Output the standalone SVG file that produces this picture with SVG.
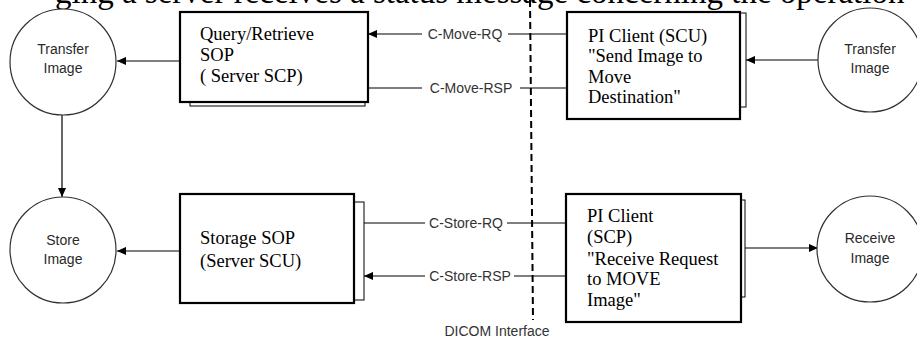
<svg xmlns="http://www.w3.org/2000/svg" width="917" height="339" viewBox="0 0 917 339">
  <style>
    .bg { fill: #ffffff; }
    .heading { font-family: "Liberation Serif", "Times New Roman", serif; font-size: 33px; fill: #000; }
    .proc { fill: #ffffff; stroke: #303030; stroke-width: 1.2; }
    .ptxt { font-family: "Liberation Sans", Arial, sans-serif; font-size: 14px; fill: #2a2a2a; text-anchor: middle; }
    .box { fill: #ffffff; stroke: #000; stroke-width: 2.2; }
    .shadow { fill: #ffffff; stroke: #000; stroke-width: 1; }
    .btxt { font-family: "Liberation Serif", "Times New Roman", serif; font-size: 18.5px; fill: #000; }
    .wire { stroke: #000; stroke-width: 1.2; fill: none; }
    .msg { font-family: "Liberation Sans", Arial, sans-serif; font-size: 14px; fill: #333; text-anchor: middle; }
    .iface { stroke: #000; stroke-width: 2; stroke-dasharray: 7 4; fill: none; }
  </style>
  <defs>
    <marker id="arr" viewBox="0 0 10 10" refX="10" refY="5" markerWidth="9" markerHeight="9" markerUnits="userSpaceOnUse" orient="auto">
      <path d="M0,0.5 L10,5 L0,9.5 z" fill="#000"/>
    </marker>
  </defs>

  <rect class="bg" x="0" y="0" width="917" height="339"/>

  <!-- running text of the surrounding page, clipped by the top edge -->
  <text class="heading" x="55" y="3">ging a server receives a status message concerning the operation</text>

  <!-- connectors -->
  <g id="connectors">
    <line class="wire" x1="180" y1="61" x2="117" y2="61" marker-end="url(#arr)"/>
    <line class="wire" x1="62" y1="115" x2="62" y2="197" marker-end="url(#arr)"/>
    <line class="wire" x1="180" y1="251" x2="117" y2="251" marker-end="url(#arr)"/>

    <!-- C-Move-RQ -->
    <line class="wire" x1="566" y1="34" x2="508" y2="34"/>
    <line class="wire" x1="422" y1="34" x2="368" y2="34" marker-end="url(#arr)"/>
    <text class="msg" x="465" y="39">C-Move-RQ</text>

    <!-- C-Move-RSP -->
    <line class="wire" x1="368" y1="88" x2="422" y2="88"/>
    <line class="wire" x1="520" y1="88" x2="566" y2="88"/>
    <text class="msg" x="471" y="93">C-Move-RSP</text>

    <line class="wire" x1="818" y1="60" x2="746" y2="60" marker-end="url(#arr)"/>

    <!-- C-Store-RQ -->
    <line class="wire" x1="364" y1="223" x2="425" y2="223"/>
    <line class="wire" x1="507" y1="223" x2="566" y2="223"/>
    <text class="msg" x="466" y="228">C-Store-RQ</text>

    <!-- C-Store-RSP -->
    <line class="wire" x1="566" y1="276" x2="514" y2="276"/>
    <line class="wire" x1="425" y1="276" x2="364" y2="276" marker-end="url(#arr)"/>
    <text class="msg" x="470" y="281">C-Store-RSP</text>

    <line class="wire" x1="745" y1="248" x2="818" y2="248" marker-end="url(#arr)"/>

    <!-- DICOM interface boundary -->
    <line class="iface" x1="530" y1="0" x2="533" y2="320"/>
    <text class="msg" x="497" y="336">DICOM Interface</text>
  </g>

  <!-- processes (circles) -->
  <g id="transfer-image-server">
    <circle class="proc" cx="63" cy="62" r="53"/>
    <text class="ptxt" x="63" y="54">Transfer</text>
    <text class="ptxt" x="63" y="73">Image</text>
  </g>
  <g id="store-image">
    <circle class="proc" cx="63" cy="250" r="53"/>
    <text class="ptxt" x="63" y="245">Store</text>
    <text class="ptxt" x="63" y="264">Image</text>
  </g>
  <g id="transfer-image-client">
    <circle class="proc" cx="870" cy="60" r="52"/>
    <text class="ptxt" x="870" y="54">Transfer</text>
    <text class="ptxt" x="870" y="73">Image</text>
  </g>
  <g id="receive-image">
    <circle class="proc" cx="870" cy="249" r="53"/>
    <text class="ptxt" x="870" y="243">Receive</text>
    <text class="ptxt" x="870" y="263">Image</text>
  </g>

  <!-- application entities (boxes) -->
  <g id="query-retrieve-sop">
    <rect class="shadow" x="190" y="20" width="175" height="86"/>
    <rect class="box" x="180" y="12" width="188" height="90"/>
    <text class="btxt" x="200" y="40">Query/Retrieve</text>
    <text class="btxt" x="200" y="61">SOP</text>
    <text class="btxt" x="200" y="82">( Server SCP)</text>
  </g>
  <g id="storage-sop">
    <rect class="shadow" x="200" y="202" width="164" height="98"/>
    <rect class="box" x="180" y="194" width="174" height="109"/>
    <text class="btxt" x="200" y="244">Storage SOP</text>
    <text class="btxt" x="200" y="267">(Server SCU)</text>
  </g>
  <g id="pi-client-scu">
    <rect class="shadow" x="580" y="13" width="166" height="94"/>
    <rect class="box" x="567" y="12" width="173" height="107"/>
    <text class="btxt" x="588" y="42">PI Client (SCU)</text>
    <text class="btxt" x="588" y="62">"Send Image to</text>
    <text class="btxt" x="588" y="83">Move</text>
    <text class="btxt" x="588" y="103">Destination"</text>
  </g>
  <g id="pi-client-scp">
    <rect class="shadow" x="580" y="200" width="165" height="97"/>
    <rect class="box" x="566" y="194" width="175" height="128"/>
    <text class="btxt" x="587" y="222">PI Client</text>
    <text class="btxt" x="587" y="243">(SCP)</text>
    <text class="btxt" x="587" y="265">"Receive Request</text>
    <text class="btxt" x="587" y="285">to MOVE</text>
    <text class="btxt" x="587" y="306">Image"</text>
  </g>
</svg>
